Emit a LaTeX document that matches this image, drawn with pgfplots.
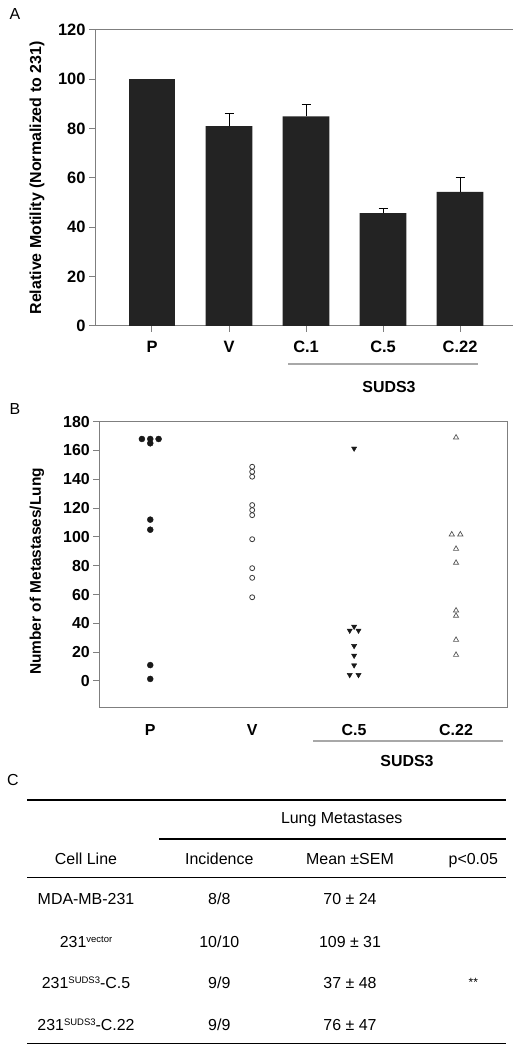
\documentclass[border=0pt]{standalone}
\usepackage{pgfplots}
\pgfplotsset{compat=1.18}
\usepackage{fontspec}
\setmainfont{Liberation Sans}
\definecolor{barcol}{HTML}{232323}
\definecolor{axgray}{HTML}{7F7F7F}
\definecolor{linegray}{HTML}{A8A8A8}
\definecolor{opengray}{HTML}{3A3A3A}
\definecolor{trigray}{HTML}{555555}
\newcommand{\fs}[1]{\fontsize{#1}{#1}\selectfont}
\newcommand{\tx}[3]{\node[anchor=base,inner sep=0pt,font=\fs{16}] at (#1,#2-5.7) {#3};}
\newcommand{\sups}[1]{\raisebox{5.5bp}{\fs{9.5}#1}}
\begin{document}
\begin{tikzpicture}[x=1bp,y=1bp]
\useasboundingbox (0,0) rectangle (513,1050);
% ---------------- Panel A ----------------
\node[font=\fs{16},inner sep=0pt] at (15,1036) {A};
\begin{axis}[
  at={(95bp,724bp)}, anchor=south west,
  scale only axis, width=419bp, height=296bp,
  xmin=-0.74, xmax=4.70, ymin=0, ymax=120,
  ytick={0,20,...,120}, xtick={0,1,2,3,4},
  xticklabels={P,V,C.1,C.5,C.22},
  xtick pos=bottom, ytick pos=left,
  tick align=outside, major tick length=6bp,
  axis line style={axgray, line width=1bp},
  tick style={axgray, line width=1bp},
  ticklabel style={font=\bfseries\fs{16.5}},
  /pgf/number format/assume math mode=true,
  xticklabel shift=6bp,
]
\addplot[ybar, bar width=46.7bp, fill=barcol, draw=none]
  coordinates {(0,100)};
\addplot[ybar, bar width=46.7bp, fill=barcol, draw=none,
  error bars/.cd, y dir=plus, y explicit,
  error bar style={black, line width=1bp},
  error mark=-,
  error mark options={rotate=90, black, mark size=4.5bp, line width=1bp}]
  coordinates {
  (1,81) +- (0,5.3)
  (2,85) +- (0,4.9)
  (3,45.8) +- (0,1.9)
  (4,54.4) +- (0,5.7)
  };
\end{axis}
\node[rotate=90,font=\bfseries\fs{16},inner sep=0pt] at (37,872) {Relative Motility (Normalized to 231)};
\draw[linegray, line width=1.3bp] (288,686) -- (478,686);
\node[font=\bfseries\fs{16},inner sep=0pt] at (389,663) {SUDS3};
% ---------------- Panel B ----------------
\node[font=\fs{16},inner sep=0pt] at (15,641) {B};
\begin{axis}[
  at={(99.3bp,342.7bp)}, anchor=south west,
  scale only axis, width=407.7bp, height=285.6bp,
  xmin=0.5, xmax=4.5, ymin=-18.3, ymax=180,
  ytick={0,20,...,180}, xtick={1,2,3,4},
  xticklabels={P,V,C.5,C.22},
  xtick pos=bottom, ytick pos=left,
  tick align=outside, major tick length=6bp,
  x tick style={draw=none},
  axis line style={axgray, line width=1bp},
  tick style={axgray, line width=1bp},
  ticklabel style={font=\bfseries\fs{16}},
  /pgf/number format/assume math mode=true,
  xticklabel shift=8bp,
  clip=false,
]
\addplot[only marks, mark=*, mark size=3bp, mark options={fill=black!90, draw=black!90}]
  coordinates {(0.918,168) (1,168) (1.082,168) (1,165) (1,112) (1,105) (1,11) (1,1.4)};
\addplot[only marks, mark=o, mark size=2.5bp, mark options={draw=opengray, fill=white, line width=0.8bp}]
  coordinates {(2,148.7) (2,145.2) (2,141.8) (2,122.1) (2,118.6) (2,115.1) (2,98.4) (2,78.3) (2,71.6) (2,58.1)};
\addplot[only marks, mark=triangle*, mark size=3bp, mark options={rotate=180, fill=black!90, draw=black!90}]
  coordinates {(3,161.4) (3,37.7) (2.957,35) (3.043,35) (3,24.3) (3,17.6) (3,10.9) (2.957,4.2) (3.043,4.2)};
\addplot[only marks, mark=triangle, mark size=3bp, mark options={draw=trigray, line width=0.7bp}]
  coordinates {(4,169) (3.958,101.7) (4.042,101.7) (4,91.7) (4,82) (4,48.9) (4,45.2) (4,28.5) (4,18.1)};
\end{axis}
\node[rotate=90,font=\bfseries\fs{15.5},inner sep=0pt] at (37,478.5) {Number of Metastases/Lung};
\draw[linegray, line width=1.3bp] (313,309) -- (503,309);
\node[font=\bfseries\fs{16},inner sep=0pt] at (407,289) {SUDS3};
% ---------------- Panel C ----------------
\node[font=\fs{16},inner sep=0pt] at (13,270) {C};
\draw[black, line width=1.5bp] (27,250) -- (506,250);
\tx{341.7}{231.7}{Lung Metastases}
\draw[black, line width=1.5bp] (159,211) -- (506,211);
\tx{86}{190.7}{Cell Line}
\tx{219.3}{190.7}{Incidence}
\tx{350}{190.7}{Mean ±SEM}
\tx{473.3}{190.7}{p<0.05}
\draw[black, line width=1.5bp] (27,172.3) -- (506,172.3);
\tx{86}{151}{MDA-MB-231}
\tx{219.3}{151}{8/8}
\tx{350}{151}{70 ± 24}
\tx{86}{107.7}{231\sups{vector}}
\tx{219.3}{107.7}{10/10}
\tx{350}{107.7}{109 ± 31}
\tx{86}{66.7}{231\sups{SUDS3}-C.5}
\tx{219.3}{66.7}{9/9}
\tx{350}{66.7}{37 ± 48}
\node[font=\fs{12},inner sep=0pt] at (473.3,68) {**};
\tx{86}{25}{231\sups{SUDS3}-C.22}
\tx{219.3}{25}{9/9}
\tx{350}{25}{76 ± 47}
\draw[black, line width=1.5bp] (27,6.7) -- (506,6.7);
\end{tikzpicture}
\end{document}
